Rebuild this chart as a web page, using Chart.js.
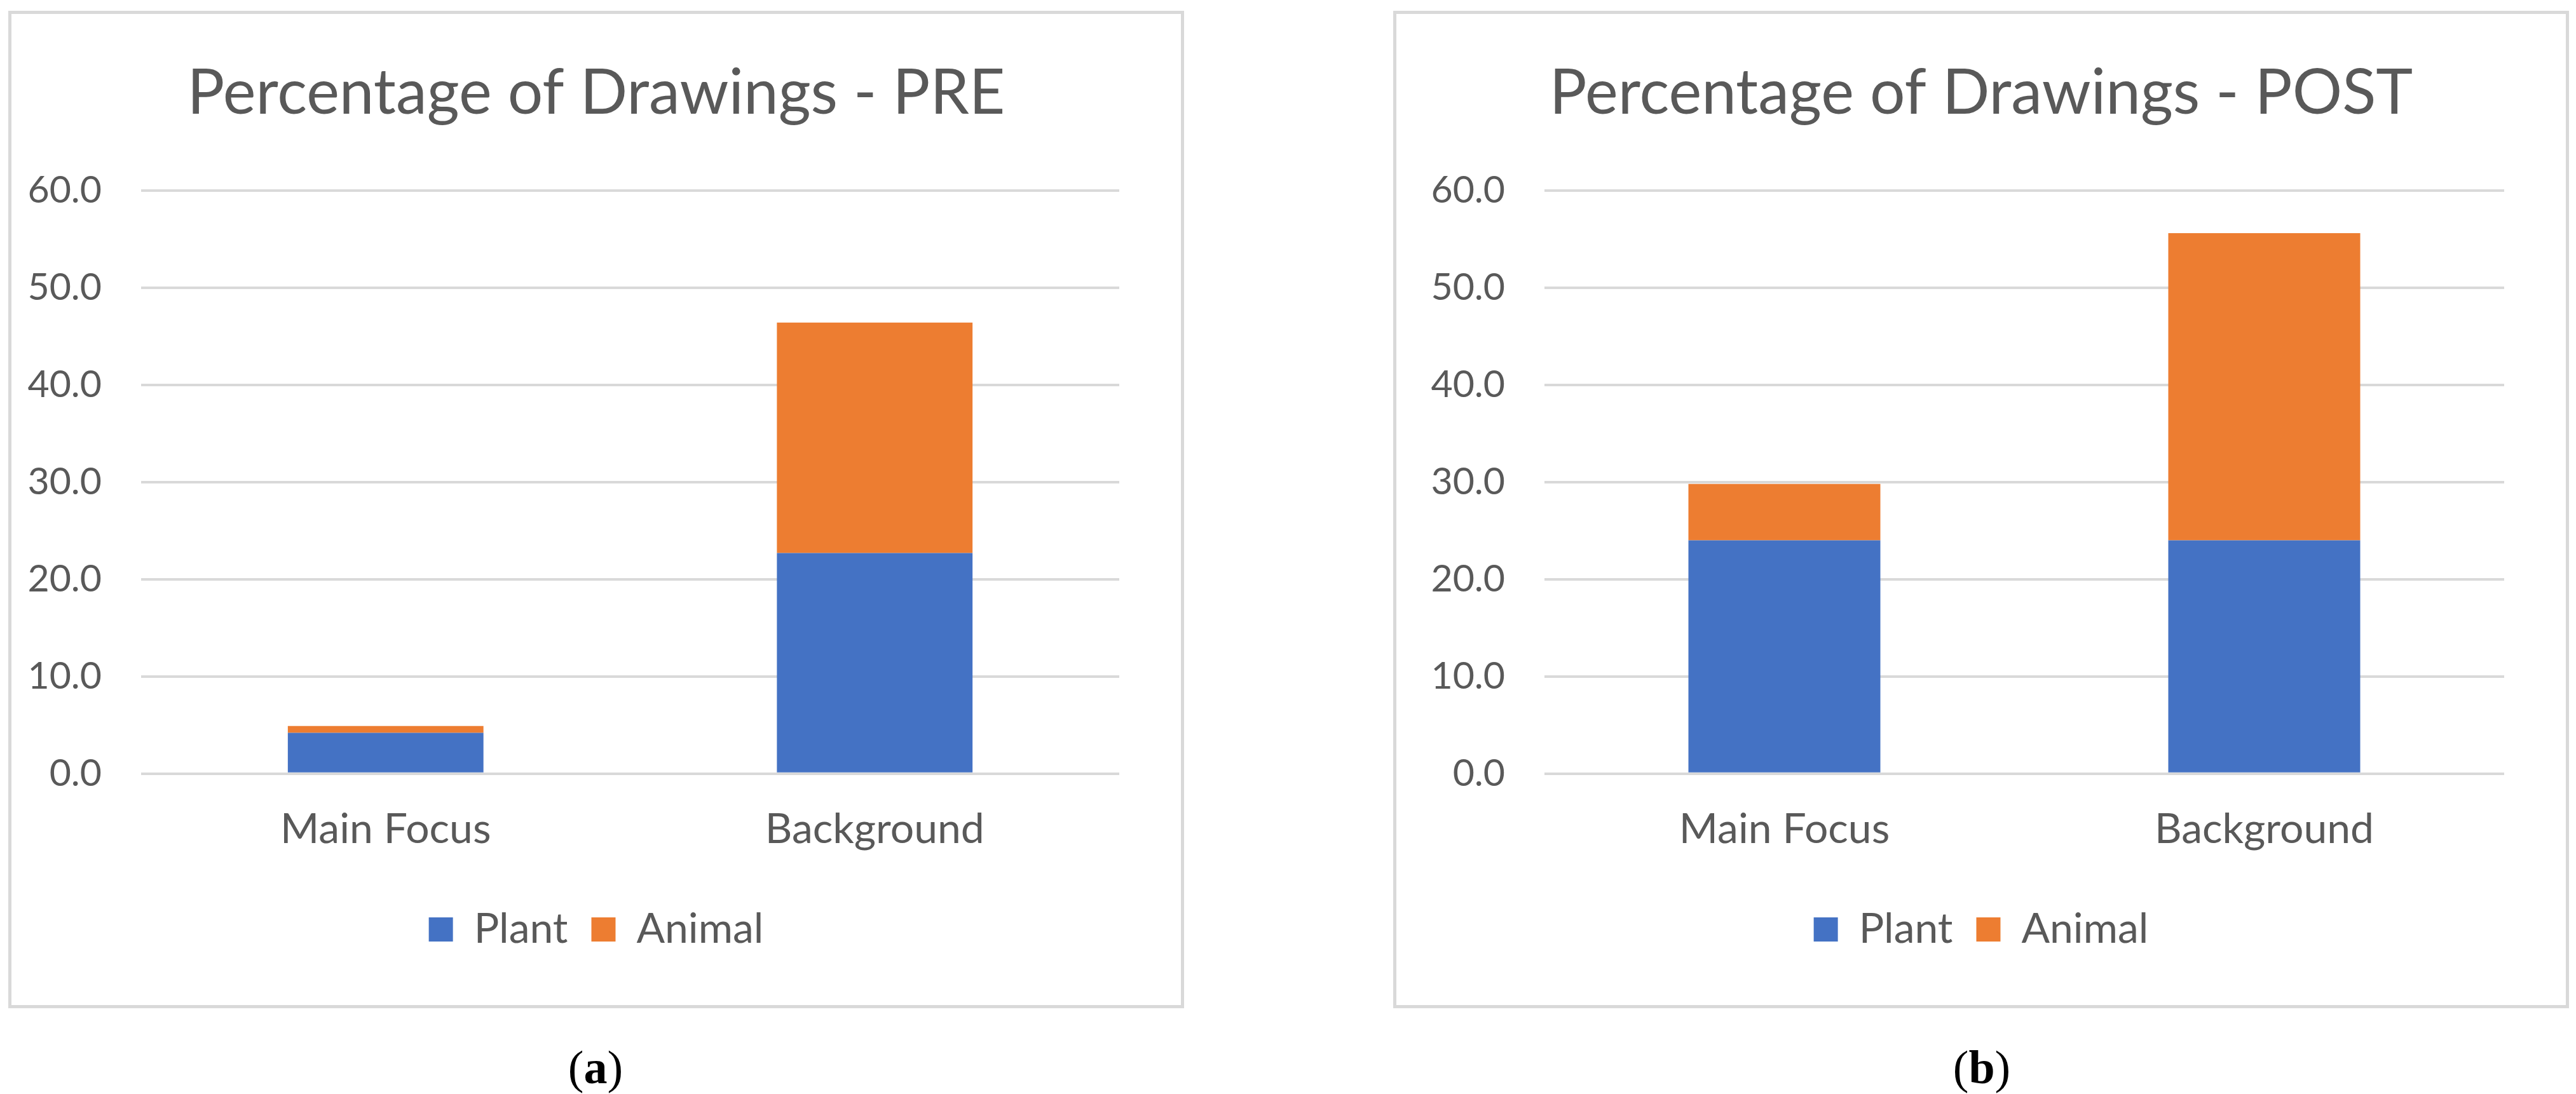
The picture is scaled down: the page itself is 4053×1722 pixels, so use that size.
<!DOCTYPE html>
<html>
<head>
<meta charset="utf-8">
<script src="https://cdn.jsdelivr.net/npm/chart.js@4.4.1/dist/chart.umd.min.js"></script>
<style>
  body { margin: 0; background: #fff; width: 4053px; height: 1722px; position: relative; overflow: hidden; }
  .panel { position: absolute; top: 17px; border: 5px solid #d9d9d9; width: 1840px; height: 1560px; }
  .panel canvas { display: block; }
  .caption { position: absolute; top: 1640px; width: 400px; text-align: center;
             font-family: "Liberation Serif", "DejaVu Serif", serif; font-size: 74px; line-height: 80px; color: #000; }
  .caption b { font-weight: bold; }
</style>
</head>
<body>
<div class="panel" style="left:13px"><canvas id="chart-pre" width="1840" height="1560"></canvas></div>
<div class="panel" style="left:2192px"><canvas id="chart-post" width="1840" height="1560"></canvas></div>
<div class="caption" style="left:737px">(<b>a</b>)</div>
<div class="caption" style="left:2918px">(<b>b</b>)</div>
<script>
// values (percent of drawings)
const categories = ['Main Focus', 'Background'];
const prePlant = [4.2, 22.7];
const preAnimal = [0.7, 23.7];
const postPlant = [24.0, 24.0];
const postAnimal = [5.8, 31.6];
const yTicks = [0, 10, 20, 30, 40, 50, 60];

const textColor = '#595959';
const fontFamily = 'Lato, "Open Sans", sans-serif';

// side: outer padding on both sides (keeps title/legend centred),
// axisWidth: room for the value labels, rightGap: blank strip right of the plot
function createChart(canvas_name, title, plant, animal, side, axisWidth, rightGap) {
    const ctx = document.getElementById(canvas_name).getContext('2d');
    return new Chart(ctx, {
        type: 'bar',
        data: {
            labels: categories,
            datasets: [
                { label: 'Plant', data: plant, backgroundColor: '#4472C4', borderWidth: 0, yAxisID: 'y' },
                { label: 'Animal', data: animal, backgroundColor: '#ED7D31', borderWidth: 0, yAxisID: 'y' }
            ]
        },
        options: {
            responsive: false,
            animation: false,
            devicePixelRatio: 1,
            layout: { padding: { left: side, right: side, top: 0, bottom: 76 } },
            datasets: { bar: { categoryPercentage: 1.0, barPercentage: 0.4 } },
            scales: {
                x: {
                    stacked: true,
                    grid: { display: false, drawTicks: false },
                    border: { display: false },
                    ticks: { color: textColor, font: { family: fontFamily, size: 66 }, padding: 48 }
                },
                y: {
                    stacked: true,
                    min: yTicks[0],
                    max: yTicks[yTicks.length - 1],
                    afterBuildTicks: axis => { axis.ticks = yTicks.map(v => ({ value: v })); },
                    afterFit: axis => { axis.width = axisWidth; },
                    grid: { color: '#d9d9d9', lineWidth: 4, drawTicks: false },
                    border: { display: false },
                    ticks: {
                        color: textColor,
                        font: { family: fontFamily, size: 59 },
                        padding: 62,
                        callback: v => Number(v).toFixed(1)
                    }
                },
                y2: {
                    type: 'linear',
                    position: 'right',
                    afterFit: axis => { axis.width = rightGap; },
                    grid: { display: false, drawTicks: false },
                    border: { display: false },
                    ticks: { display: false }
                }
            },
            plugins: {
                title: {
                    display: true,
                    text: title,
                    color: textColor,
                    font: { family: fontFamily, size: 98, weight: 'normal' },
                    padding: { top: 67, bottom: 93 }
                },
                legend: {
                    position: 'bottom',
                    labels: {
                        color: textColor,
                        font: { family: fontFamily, size: 66 },
                        boxWidth: 38,
                        boxHeight: 38,
                        padding: 37
                    }
                },
                tooltip: { enabled: false }
            }
        }
    });
}

createChart('chart-pre', 'Percentage of Drawings - PRE', prePlant, preAnimal, 19, 185, 78);
createChart('chart-post', 'Percentage of Drawings - POST', postPlant, postAnimal, 48, 185, 49);
</script>
</body>
</html>
